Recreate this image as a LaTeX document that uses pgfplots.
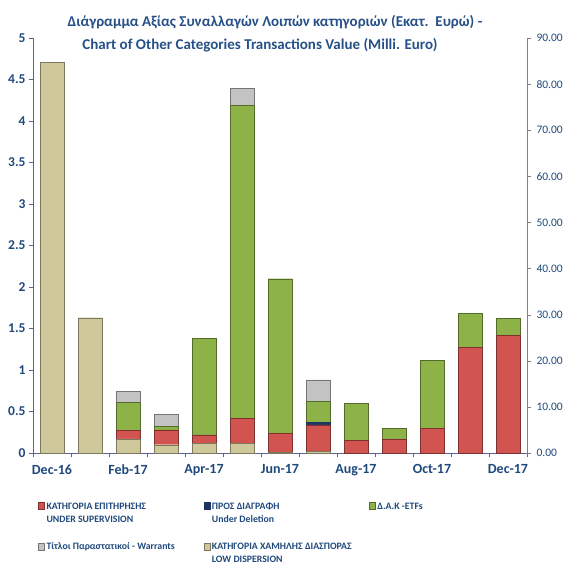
\documentclass[border=0pt]{standalone}
\usepackage{pgfplots}
\pgfplotsset{compat=1.18}
\usepackage{pgfplotstable}
\usepackage{fontspec}
\setmainfont{Carlito}
\definecolor{txtblue}{RGB}{31,73,125}
\definecolor{titleblue}{RGB}{38,80,135}
\definecolor{cred}{RGB}{210,84,80}
\definecolor{cgreen}{RGB}{140,178,72}
\definecolor{cbeige}{RGB}{206,200,155}
\definecolor{cgray}{RGB}{195,195,195}
\definecolor{cnavy}{RGB}{28,52,96}
\definecolor{axblue}{RGB}{95,95,155}

\pgfplotstableread{
x beige red navy green gray
0 4.71 0 0 0 0
1 1.63 0 0 0 0
2 0.17 0.10 0 0.34 0.13
3 0.10 0.18 0 0.04 0.15
4 0.12 0.10 0 1.16 0
5 0.12 0.30 0 3.77 0.20
6 0.01 0.23 0 1.86 0
7 0.02 0.32 0.03 0.25 0.26
8 0 0.15 0 0.45 0
9 0 0.17 0 0.13 0
10 0 0.30 0 0.82 0
11 0 1.27 0 0.41 0
12 0 1.42 0 0.20 0
}\datatable

\begin{document}
\begin{tikzpicture}
\path[use as bounding box] (0,0) rectangle (569pt,-566pt);
\begin{axis}[
  at={(33pt,-453pt)}, anchor=south west,
  width=494pt, height=415pt, scale only axis,
  xmin=-0.5, xmax=12.5, ymin=0, ymax=5,
  ybar stacked, bar width=24pt,
  axis x line*=bottom, axis y line*=left,
  x axis line style={axblue,-}, y axis line style={axblue,-},
  xtick={0,2,4,6,8,10,12},
  xticklabels={Dec-16,Feb-17,Apr-17,Jun-17,Aug-17,Oct-17,Dec-17},
  major x tick style={draw=none},
  extra x ticks={-0.5,0.5,...,12.5}, extra x tick labels={},
  extra x tick style={major x tick style={axblue,draw=axblue}},
  ytick={0,0.5,1,1.5,2,2.5,3,3.5,4,4.5,5},
  yticklabels={0,0.5,1,1.5,2,2.5,3,3.5,4,4.5,5},
  y tick style={axblue},
  tick align=outside, major tick length=4pt,
  xticklabel style={font=\bfseries\fontsize{14}{16}\selectfont, text=txtblue, yshift=-4pt},
  yticklabel style={font=\bfseries\fontsize{13.5}{16}\selectfont, text=txtblue},
  /pgf/number format/assume math mode=true,
  legend columns=3,
  legend cell align=left,
  legend image code/.code={\draw[#1] (0pt,0pt) rectangle (6pt,7pt);},
  legend style={at={(0.010,-0.114)}, anchor=north west, draw=none, fill=none,
    inner sep=0pt, column sep=0pt, row sep=28pt,
    cells={anchor=base west, inner xsep=1pt, inner ysep=0pt},
    font=\bfseries\fontsize{9.8}{13}\selectfont, text=txtblue,
    /tikz/every even column/.append style={column sep=5pt}},
]
\addplot[forget plot, fill=cbeige, draw=cbeige!60!black] table[x=x,y=beige]{\datatable};
\addplot[forget plot, fill=cred, draw=cred!60!black] table[x=x,y=red]{\datatable};
\addplot[forget plot, fill=cnavy, draw=cnavy] table[x=x,y=navy]{\datatable};
\addplot[forget plot, fill=cgreen, draw=cgreen!60!black] table[x=x,y=green]{\datatable};
\addplot[forget plot, fill=cgray, draw=cgray!60!black] table[x=x,y=gray]{\datatable};

\addlegendimage{fill=cred, draw=cred!60!black}
\addlegendentry{\parbox[t]{150pt}{ΚΑΤΗΓΟΡΙΑ ΕΠΙΤΗΡΗΣΗΣ\\UNDER SUPERVISION}}
\addlegendimage{fill=cnavy, draw=cnavy}
\addlegendentry{\parbox[t]{150pt}{ΠΡΟΣ ΔΙΑΓΡΑΦΗ\\Under Deletion}}
\addlegendimage{fill=cgreen, draw=cgreen!60!black}
\addlegendentry{\parbox[t]{150pt}{Δ.Α.Κ -ETFs}}
\addlegendimage{fill=cgray, draw=cgray!60!black}
\addlegendentry{\parbox[t]{150pt}{Τίτλοι Παραστατικοί - Warrants}}
\addlegendimage{fill=cbeige, draw=cbeige!60!black}
\addlegendentry{\parbox[t]{150pt}{ΚΑΤΗΓΟΡΙΑ ΧΑΜΗΛΗΣ ΔΙΑΣΠΟΡΑΣ\\LOW DISPERSION}}
\end{axis}
\begin{axis}[
  at={(33pt,-453pt)}, anchor=south west,
  width=494pt, height=415pt, scale only axis,
  xmin=-0.5, xmax=12.5, ymin=0, ymax=90,
  axis x line=none, axis y line*=right,
  y axis line style={gray,-}, y tick style={gray},
  ytick={0,10,20,30,40,50,60,70,80,90},
  tick align=outside, major tick length=4pt,
  scaled y ticks=false,
  yticklabel style={/pgf/number format/fixed, /pgf/number format/fixed zerofill,
    /pgf/number format/precision=2, font=\fontsize{11.5}{13}\selectfont, text=txtblue, xshift=2pt},
  /pgf/number format/assume math mode=true,
]
\addplot[draw=none] coordinates {(0,0)};
\end{axis}
\node[font=\bfseries\fontsize{15}{18}\selectfont, text=titleblue] at (275pt,-22pt)
  {Διάγραμμα Αξίας Συναλλαγών Λοιπών κατηγοριών (Εκατ.\ \ Ευρώ) -};
\node[font=\bfseries\fontsize{15}{18}\selectfont, text=titleblue] at (260pt,-45pt)
  {Chart of Other Categories Transactions Value (Milli. Euro)};
\end{tikzpicture}
\end{document}
